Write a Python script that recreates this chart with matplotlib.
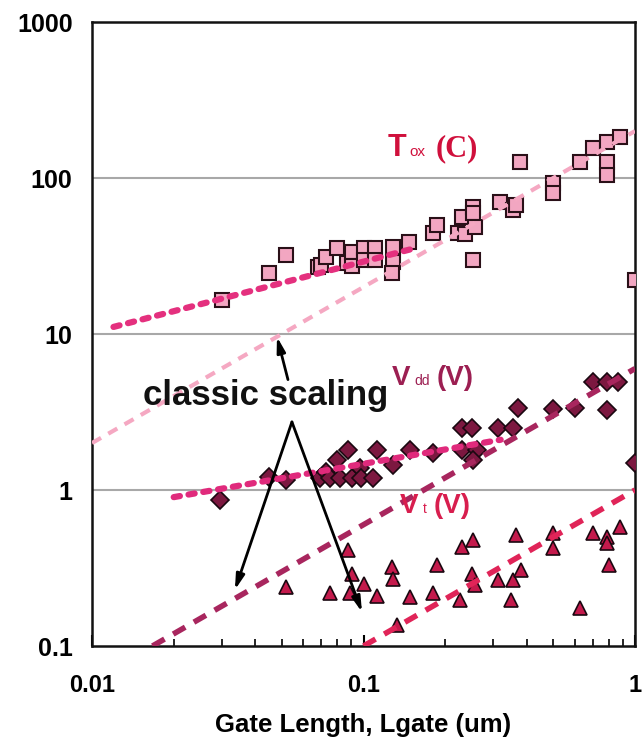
import numpy as np
import matplotlib.pyplot as plt
from matplotlib.ticker import FixedLocator, NullFormatter

plt.rcParams['font.family'] = ['Liberation Sans', 'DejaVu Sans']

# Tox (C) points, squares
tox_L = [0.030, 0.045, 0.052, 0.068, 0.070, 0.073, 0.080, 0.087, 0.091, 0.091,
         0.100, 0.100, 0.110, 0.110, 0.128, 0.128, 0.127, 0.147, 0.180, 0.187,
         0.223, 0.231, 0.236, 0.253, 0.253, 0.258, 0.253, 0.318, 0.355, 0.366,
         0.377, 0.499, 0.499, 0.627, 0.700, 0.789, 0.789, 0.789, 0.881, 1.0]
tox_T = [16.5, 24.6, 32.0, 27.0, 27.7, 31.0, 35.6, 28.5, 33.6, 27.1,
         35.6, 29.8, 35.6, 29.8, 36.0, 28.9, 24.6, 38.6, 44.4, 50.0,
         44.4, 56.0, 44.0, 65.0, 59.7, 48.5, 29.8, 70.0, 62.4, 67.0,
         127, 93, 80, 127, 156, 170, 127, 104, 183, 22.2]

# Vdd (V) points, diamonds
vdd_L = [0.0296, 0.045, 0.052, 0.069, 0.073, 0.075, 0.080, 0.082, 0.0876, 0.091,
         0.097, 0.098, 0.108, 0.112, 0.128, 0.148, 0.180, 0.231, 0.250, 0.231,
         0.262, 0.253, 0.313, 0.355, 0.371, 0.499, 0.60, 0.700, 0.789, 0.866,
         0.789, 1.0]
vdd_V = [0.86, 1.21, 1.16, 1.19, 1.30, 1.19, 1.56, 1.19, 1.80, 1.19,
         1.38, 1.19, 1.19, 1.80, 1.45, 1.80, 1.72, 2.49, 2.49, 1.80,
         1.80, 1.56, 2.49, 2.49, 3.36, 3.30, 3.36, 4.92, 4.92, 4.92,
         3.26, 1.49]

# Vt (V) points, triangles
vt_L = [0.052, 0.0876, 0.091, 0.075, 0.089, 0.100, 0.112, 0.127, 0.128, 0.148,
        0.133, 0.180, 0.187, 0.231, 0.253, 0.227, 0.250, 0.258, 0.313, 0.355,
        0.380, 0.350, 0.366, 0.499, 0.499, 0.627, 0.700, 0.789, 0.789, 0.800,
        0.880]
vt_V = [0.239, 0.41, 0.29, 0.22, 0.22, 0.25, 0.21, 0.32, 0.27, 0.206,
        0.136, 0.218, 0.33, 0.43, 0.48, 0.197, 0.29, 0.246, 0.265, 0.265,
        0.307, 0.197, 0.515, 0.53, 0.425, 0.175, 0.53, 0.50, 0.457, 0.33,
        0.58]

# trend lines (heavy dotted)
tox_fit_L = [0.012, 0.15]
tox_fit_T = [11.1, 35.0]
vdd_fit_L = [0.02, 0.32]
vdd_fit_V = [0.9, 2.1]

# classic scaling lines (dashed)
tox_cl_L = [0.01, 1.0]
tox_cl_T = [2.0, 200.0]
vdd_cl_L = [0.0167, 1.0]
vdd_cl_V = [0.1, 6.0]
vt_cl_L = [0.1, 1.0]
vt_cl_V = [0.1, 1.0]

fig = plt.figure(figsize=(6.42, 7.44), dpi=100)
ax = fig.add_axes([92/642, 1-646/744, 543/642, 624/744])
ax.set_xscale('log')
ax.set_yscale('log')
ax.set_xlim(0.01, 1)
ax.set_ylim(0.1, 1000)

for y in [1, 10, 100]:
    ax.axhline(y, color='#a8a8a8', lw=1.5, zorder=1)

ax.plot(tox_L, tox_T, 's', ms=10, mfc='#f2a6c1', mec='#2a1018', mew=1.5, zorder=3)
ax.plot(vdd_L, vdd_V, 'D', ms=9, mfc='#7c1840', mec='#1a0810', mew=1.2, zorder=3)
ax.plot(vt_L, vt_V, '^', ms=10, mfc='#c41a4c', mec='#1a0810', mew=1.2, zorder=3)

ax.plot(tox_cl_L, tox_cl_T, color='#f5a8c2', lw=3, dashes=(2.5, 2), zorder=4)
ax.plot(vdd_cl_L, vdd_cl_V, color='#a8265e', lw=4, dashes=(2.5, 1.8), zorder=4)
ax.plot(vt_cl_L, vt_cl_V, color='#e02458', lw=4, dashes=(2.5, 1.8), zorder=4)
ax.plot(tox_fit_L, tox_fit_T, color='#e4307e', lw=4.5, dashes=(1.0, 1.4),
        dash_capstyle='round', zorder=5)
ax.plot(vdd_fit_L, vdd_fit_V, color='#e02a7c', lw=4.5, dashes=(1.0, 1.4),
        dash_capstyle='round', zorder=5)

# labels
ax.text(0.123, 138, 'T', color='#d0103c', fontsize=22, fontweight='bold',
        va='baseline', zorder=6)
ax.text(0.147, 138, 'ox', color='#d0103c', fontsize=11, va='baseline', zorder=6)
ax.text(0.185, 138, '(C)', color='#d0103c', fontsize=22, fontweight='bold',
        va='baseline', family='Liberation Serif', zorder=6)
ax.text(0.127, 4.71, 'V', color='#9c1f52', fontsize=20, fontweight='bold',
        va='baseline', zorder=6)
ax.text(0.154, 4.71, 'dd', color='#9c1f52', fontsize=10, va='baseline', zorder=6)
ax.text(0.186, 4.71, '(V)', color='#9c1f52', fontsize=20, fontweight='bold',
        va='baseline', zorder=6)
ax.text(0.136, 0.712, 'V', color='#d81e4e', fontsize=20, fontweight='bold',
        va='baseline', zorder=6)
ax.text(0.165, 0.712, 't', color='#d81e4e', fontsize=10, va='baseline', zorder=6)
ax.text(0.181, 0.712, '(V)', color='#d81e4e', fontsize=20, fontweight='bold',
        va='baseline', zorder=6)

ax.text(0.0154, 3.5, 'classic scaling', fontsize=25, fontweight='bold',
        color='#111111', va='baseline', zorder=6)

aprops = dict(arrowstyle='-|>,head_length=0.9,head_width=0.25', color='black',
              lw=2, shrinkA=0, shrinkB=0)
ax.annotate('', xy=(0.048, 9.6), xytext=(0.0527, 5.1), arrowprops=aprops, zorder=6)
ax.annotate('', xy=(0.0336, 0.229), xytext=(0.0545, 2.73), arrowprops=aprops, zorder=6)
ax.annotate('', xy=(0.0987, 0.165), xytext=(0.0545, 2.73), arrowprops=aprops, zorder=6)

ax.set_yticks([0.1, 1, 10, 100, 1000])
ax.set_yticklabels(['0.1', '1', '10', '100', '1000'])
ax.yaxis.set_minor_locator(FixedLocator([]))
ax.tick_params(axis='y', which='both', length=0, pad=14, labelsize=18)
ax.set_xticks([0.01, 0.1, 1])
ax.set_xticklabels(['0.01', '0.1', '1'])
ax.xaxis.set_minor_formatter(NullFormatter())
ax.tick_params(axis='x', which='major', direction='in', length=8, width=1.5,
               pad=20, labelsize=17)
ax.tick_params(axis='x', which='minor', direction='in', length=5, width=1.2)
for lab in ax.get_xticklabels() + ax.get_yticklabels():
    lab.set_fontweight('bold')
for s in ax.spines.values():
    s.set_linewidth(1.8)
    s.set_color('#111111')

ax.set_xlabel('Gate Length, Lgate (um)', fontsize=18.5, fontweight='bold', labelpad=12)

fig.savefig('out.png', dpi=100)
